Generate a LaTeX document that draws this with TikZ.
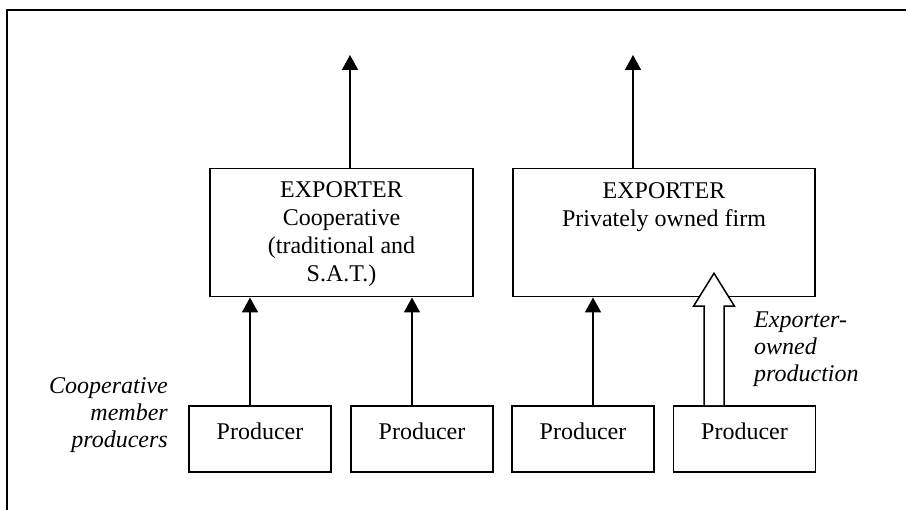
\documentclass[tikz,border=0pt]{standalone}
\usepackage{fontspec}
\setmainfont{Liberation Serif}
\usetikzlibrary{arrows.meta,calc}
\begin{document}
\begin{tikzpicture}[x=1pt,y=-1pt,
  txt/.style={font=\fontsize{24}{28}\selectfont},
  box/.style={txt, draw, line width=1.5pt, inner sep=0pt},
  prod/.style={txt, draw, line width=1.5pt, minimum width=142pt, inner xsep=0pt, inner ysep=10pt, text height=24pt, text depth=22pt},
  arr/.style={-{Triangle[length=15pt,width=16pt]}, line width=1.6pt},
  lab/.style={font=\fontsize{24}{27}\selectfont\itshape, inner sep=0pt},
  hollow/.style={line width=1.5pt, fill=white}]
\useasboundingbox (0,0) rectangle (906,510);
\begin{scope}
  \clip (0,0) rectangle (906,510);
  \draw[line width=2pt] (7,10) rectangle (1000,600);
\end{scope}

% exporter boxes
\node[box, anchor=north] (ex1) at (341.5,168)
  {\parbox[t][128pt][t]{263pt}{\centering\rule{0pt}{29pt}EXPORTER\\Cooperative\\(traditional and\\S.A.T.)}};
\node[box, anchor=north] (ex2) at (664,168)
  {\parbox[t][128pt][t]{302pt}{\centering\rule{0pt}{30pt}EXPORTER\\Privately owned firm}};

% producers
\node[prod] (p1) at (260,439) {Producer};
\node[prod] (p2) at (422,439) {Producer};
\node[prod] (p3) at (583,439) {Producer};
\node[prod] (p4) at (744.5,439) {Producer};

% labels
\node[lab, anchor=base east] (l1) at (168,394)
  {\parbox[t]{170pt}{\raggedleft Cooperative\\member\\producers}};
\node[lab, anchor=base west] (l2) at (754,328)
  {\parbox[t]{150pt}{\raggedright Exporter-\\owned\\production}};

% outgoing arrows
\coordinate (t1) at (350,55);
\coordinate (t2) at (633,55);
\draw[arr] (t1 |- ex1.north) -- (t1);
\draw[arr] (t2 |- ex2.north) -- (t2);

% producer arrows
\draw[arr] ([xshift=-10pt]p1.north) -- ([xshift=-10pt]p1.north |- ex1.south);
\draw[arr] ([xshift=-10pt]p2.north) -- ([xshift=-10pt]p2.north |- ex1.south);
\draw[arr] ([xshift=10pt]p3.north) -- ([xshift=10pt]p3.north |- ex2.south);

% hollow arrow
\draw[hollow] ($(p4.north)+(-40.5,0)$) -- ++(0,-99) -- ++(-10.5,0) -- ++(20.5,-33)
  -- ++(20.5,33) -- ++(-10.5,0) -- ++(0,99);
\end{tikzpicture}
\end{document}
